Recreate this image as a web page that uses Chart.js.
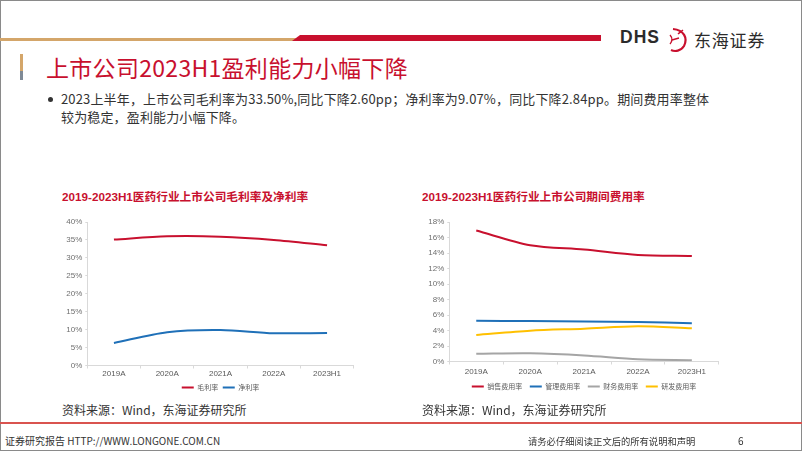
<!DOCTYPE html>
<html>
<head>
<meta charset="utf-8">
<script src="https://cdn.jsdelivr.net/npm/chart.js@4.4.0/dist/chart.umd.min.js"></script>
<style>
  html,body{margin:0;padding:0;background:#fff;}
  body{width:802px;height:451px;position:relative;overflow:hidden;font-family:"Noto Sans CJK SC","Noto Sans",sans-serif;}
  .abs{position:absolute;}
  #frame{left:0;top:0;width:800px;height:449px;border:1px solid #8a8a8a;}
  #tan{left:0;top:38px;width:300px;height:3px;background:#d4a66a;}
  #red{left:292px;top:35px;width:309px;height:6px;background:#c8102e;clip-path:polygon(8px 0,100% 0,100% 100%,0 100%);}
  #dhs{left:620px;top:27px;font-family:"Liberation Sans",Arial,sans-serif;font-weight:bold;font-size:17.5px;color:#2b2b2b;letter-spacing:1px;}
  #dhsname{left:694px;top:27px;font-size:17px;color:#2b2b2b;letter-spacing:0.8px;}
  #tbar1{left:20px;top:54px;width:3px;height:17px;background:#d4a66a;}
  #tbar2{left:20px;top:71px;width:3px;height:9px;background:#7f8a96;}
  #title{left:46px;top:52px;font-size:23px;color:#c8102e;letter-spacing:0.3px;line-height:30px;white-space:nowrap;}
  #bullet{left:48px;top:97px;width:5px;height:5px;border-radius:50%;background:#333;}
  #para{left:61px;top:90px;font-size:13px;color:#333;line-height:18px;white-space:nowrap;letter-spacing:0.15px;}
  .ctitle{font-family:"Liberation Sans","Noto Sans CJK SC",sans-serif;font-size:11.7px;font-weight:bold;color:#c8102e;white-space:nowrap;line-height:16px;}
  .src{font-size:12px;color:#333;white-space:nowrap;line-height:16px;}
  #foot{left:0;top:422px;width:802px;height:2px;background:#d9534f;}
  .ft{font-size:10px;color:#333;white-space:nowrap;line-height:12px;}
</style>
</head>
<body>
<div id="frame" class="abs"></div>
<div id="tan" class="abs"></div>
<div id="red" class="abs"></div>
<div id="dhs" class="abs">DHS</div>
<svg class="abs" style="left:664px;top:26px" width="28" height="28" viewBox="0 0 28 28">
  <path d="M9 3 C20 4 24 12 20 20 C17 25 11 26 7 24" fill="none" stroke="#c8102e" stroke-width="2.2"/>
  <path d="M6 9 C9 12 8 16 6 18 M8 14 L15 12 M14 8 C16 6 18 5 19 4" fill="none" stroke="#c8102e" stroke-width="1.4"/>
</svg>
<div id="dhsname" class="abs">东海证券</div>
<div id="tbar1" class="abs"></div>
<div id="tbar2" class="abs"></div>
<div id="title" class="abs">上市公司2023H1盈利能力小幅下降</div>
<div id="bullet" class="abs"></div>
<div id="para" class="abs">2023上半年，上市公司毛利率为33.50%,同比下降2.60pp；净利率为9.07%，同比下降2.84pp。期间费用率整体<br>较为稳定，盈利能力小幅下降。</div>

<div class="abs ctitle" style="left:62px;top:189px;">2019-2023H1医药行业上市公司毛利率及净利率</div>
<div class="abs ctitle" style="left:422px;top:189px;">2019-2023H1医药行业上市公司期间费用率</div>

<div class="abs" style="left:40px;top:210px;width:361px;height:191px;"><canvas id="c1"></canvas></div>
<div class="abs" style="left:400px;top:210px;width:368px;height:190px;"><canvas id="c2"></canvas></div>

<div class="abs src" style="left:62px;top:402px;">资料来源：Wind，东海证券研究所</div>
<div class="abs src" style="left:422px;top:402px;">资料来源：Wind，东海证券研究所</div>

<div id="foot" class="abs"></div>
<div class="abs ft" style="left:5px;top:435px;">证券研究报告 HTTP://WWW.LONGONE.COM.CN</div>
<div class="abs ft" style="left:528px;top:435px;font-size:9.3px;">请务必仔细阅读正文后的所有说明和声明</div>
<div class="abs ft" style="left:738px;top:435px;">6</div>

<script>
const categories = ['2019A', '2020A', '2021A', '2022A', '2023H1'];
const grossMargin = [35.1, 36.0, 35.9, 35.0, 33.5];
const netMargin = [6.3, 9.3, 9.9, 9.0, 9.07];
const salesExpense = [16.9, 15.0, 14.45, 13.75, 13.62];
const adminExpense = [5.25, 5.22, 5.15, 5.1, 4.94];
const financeExpense = [0.99, 1.05, 0.78, 0.3, 0.17];
const rdExpense = [3.43, 3.98, 4.24, 4.55, 4.3];

const RED = '#c8102e', BLUE = '#1f70b8', GRAY = '#a5a5a5', YELLOW = '#ffc000';

function ds(label, data, color) {
  return {label, data, borderColor: color, backgroundColor: color, borderWidth: 2,
          pointRadius: 0, pointStyle: 'line', tension: 0.3, fill: false};
}

function opts(max, step, yWidth, padRight, legendPad, tickPad) {
  return {
    responsive: true, maintainAspectRatio: false, animation: false,
    layout: {padding: {top: 12, right: padRight, left: 0, bottom: 0}},
    plugins: {
      legend: {position: 'bottom', fullSize: false,
               labels: {usePointStyle: true, pointStyleWidth: 12, padding: legendPad,
               color: '#595959', font: {size: 7, family: '"Noto Sans CJK SC", sans-serif'}}},
      tooltip: {enabled: false}
    },
    scales: {
      x: {
        offset: true,
        afterFit: s => { s.height = 14; },
        grid: {offset: true, drawOnChartArea: false, drawTicks: true, tickLength: 3, color: '#d9d9d9'},
        border: {display: true, color: '#d9d9d9'},
        ticks: {padding: tickPad, color: '#595959', font: {size: 8, family: '"Liberation Sans", Arial, sans-serif'}, maxRotation: 0}
      },
      y: {
        min: 0, max: max,
        afterFit: s => { s.width = yWidth; },
        grid: {drawOnChartArea: false, drawTicks: true, tickLength: 2, color: '#d9d9d9'},
        border: {display: true, color: '#d9d9d9'},
        ticks: {stepSize: step, padding: 3, color: '#6f6f6f',
                font: {size: 8, family: '"Liberation Sans", Arial, sans-serif'},
                callback: v => v + '%'}
      }
    }
  };
}

new Chart(document.getElementById('c1'), {
  type: 'line',
  data: {labels: categories, datasets: [ds('毛利率', grossMargin, RED), ds('净利率', netMargin, BLUE)]},
  options: opts(40, 5, 47.3, 47.3, 4.5, 0.5)
});

new Chart(document.getElementById('c2'), {
  type: 'line',
  data: {labels: categories, datasets: [
    ds('销售费用率', salesExpense, RED), ds('管理费用率', adminExpense, BLUE),
    ds('财务费用率', financeExpense, GRAY), ds('研发费用率', rdExpense, YELLOW)]},
  options: opts(18, 2, 49.3, 49.2, 7.5, 2)
});
</script>
</body>
</html>
